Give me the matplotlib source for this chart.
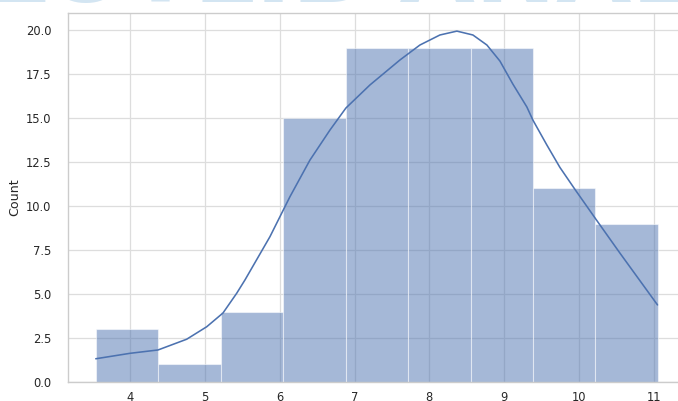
import matplotlib
matplotlib.use("Agg")
import matplotlib.pyplot as plt
import numpy as np
import seaborn as sns

# histogram bins
bin_start = 3.546
bin_width = 0.834
counts = [3, 1, 4, 15, 19, 19, 19, 11, 9]

# kde curve, scaled to counts
kde_x = [3.542, 4.0, 4.374, 4.757, 5.025, 5.242, 5.425, 5.536, 5.87, 6.137,
         6.404, 6.672, 6.885, 7.206, 7.607, 7.874, 8.141, 8.368, 8.582, 8.769,
         8.943, 9.116, 9.303, 9.383, 9.570, 9.744, 9.945, 10.234, 10.546, 11.049]
kde_y = [1.32, 1.63, 1.82, 2.43, 3.14, 3.92, 5.04, 5.80, 8.26, 10.53,
         12.61, 14.32, 15.57, 16.88, 18.30, 19.15, 19.72, 19.94, 19.72, 19.15,
         18.24, 16.93, 15.63, 14.89, 13.47, 12.20, 10.95, 9.20, 7.33, 4.38]

yticks = [0, 2.5, 5, 7.5, 10, 12.5, 15, 17.5, 20]
xticks = [4, 5, 6, 7, 8, 9, 10, 11]

sns.set_style("whitegrid")
blue = "#4c72b0"

fig = plt.figure(figsize=(6.78, 4.01), dpi=100)
ax = fig.add_axes([0.1003, 0.0474, 0.9145, 0.9202])

edges = bin_start + bin_width * np.arange(len(counts))
ax.bar(edges, counts, width=bin_width, align="edge", color=blue, alpha=0.5,
       edgecolor="white", linewidth=0.8)
ax.plot(kde_x, kde_y, color=blue, linewidth=1.15)

ax.set_xlim(3.171, 11.457)
ax.set_ylim(0, 20.97)
ax.set_xticks(xticks)
ax.set_yticks(yticks)
ax.set_yticklabels([f"{v:.1f}" for v in yticks])
ax.tick_params(axis="y", labelsize=8.3, pad=8.5, colors="#262626")
ax.tick_params(axis="x", labelsize=8.3, pad=3.0, colors="#262626")
ax.set_ylabel("Count", fontsize=9.05, color="#262626", labelpad=3.5)
ax.grid(True, color="#dddddd", linewidth=0.9)
ax.set_axisbelow(True)
for s in ax.spines.values():
    s.set_color("#cccccc")
    s.set_linewidth(1.0)

# light blue watermark, only its bottom shows at the top edge
fig.text(0.5, 0.996, "MATPLOTLIB ANALYTICS", ha="center", va="baseline",
         fontsize=70, fontweight="bold", color="#d3e5f2", zorder=0)

fig.savefig("out.png", dpi=100)
